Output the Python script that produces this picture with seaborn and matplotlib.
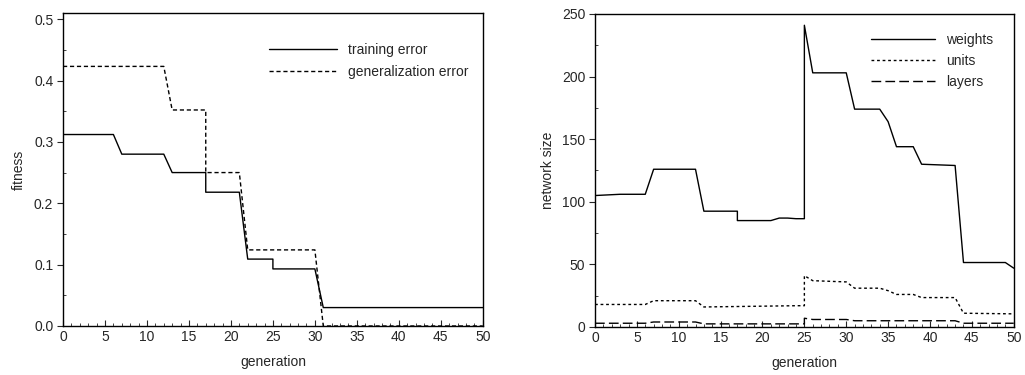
import numpy as np
import pandas as pd
import matplotlib
matplotlib.use("Agg")
import matplotlib.pyplot as plt
import seaborn as sns
from matplotlib.ticker import MultipleLocator

# fitness panel (vertices of the curves)
gen_train = [0, 6, 7, 12, 13, 17, 17, 21, 22, 25, 25, 30, 31, 50]
training_error = [0.312, 0.312, 0.280, 0.280, 0.250, 0.250, 0.218, 0.218, 0.109, 0.109, 0.093, 0.093, 0.030, 0.030]

gen_gener = [0, 12, 13, 17, 17, 21, 22, 30, 31, 50]
generalization_error = [0.423, 0.423, 0.352, 0.352, 0.250, 0.250, 0.124, 0.124, 0.0, 0.0]

# network size panel
gen_weights = [0, 3, 6, 7, 12, 13, 17, 17, 21, 22, 23, 24, 25, 25, 26, 30, 31, 34, 35, 36, 38, 39, 43, 44, 49, 50]
weights = [105, 106, 106, 126, 126, 92.5, 92.5, 85, 85, 87, 87, 86.5, 86.5, 241, 203, 203, 174, 174, 164, 144, 144, 130, 129, 51.5, 51.5, 47]

gen_units = [0, 6, 7, 12, 13, 24, 25, 25, 26, 30, 31, 34, 35, 36, 38, 39, 43, 44, 50]
units = [18, 18, 21, 21, 16, 17, 17, 41, 37, 36, 31, 31, 29, 26, 26, 23.5, 23.5, 11, 10.5]

gen_layers = [0, 6, 7, 12, 13, 25, 25, 26, 30, 31, 43, 44, 50]
layers = [3, 3, 4, 4, 2.5, 2.5, 7, 6, 6, 5, 5, 3, 3]

sns.set_style("ticks")
plt.rcParams['font.family'] = ['Liberation Sans', 'DejaVu Sans']
plt.rcParams['font.size'] = 10

fig = plt.figure(figsize=(10.25, 3.75), dpi=100)
ax1 = fig.add_axes([0.0615, 0.1307, 0.4095, 0.8346])
ax2 = fig.add_axes([0.5805, 0.128, 0.4085, 0.8347])

lw = 1.0
sns.lineplot(x=gen_train, y=training_error, ax=ax1, color="black", lw=lw,
             estimator=None, sort=False, label="training error")
sns.lineplot(x=gen_gener, y=generalization_error, ax=ax1, color="black", lw=lw,
             estimator=None, sort=False, label="generalization error")
ax1.lines[1].set_dashes([3, 2])

sns.lineplot(x=gen_weights, y=weights, ax=ax2, color="black", lw=lw,
             estimator=None, sort=False, label="weights")
sns.lineplot(x=gen_units, y=units, ax=ax2, color="black", lw=lw,
             estimator=None, sort=False, label="units")
sns.lineplot(x=gen_layers, y=layers, ax=ax2, color="black", lw=lw,
             estimator=None, sort=False, label="layers")
ax2.lines[1].set_dashes([2, 2])
ax2.lines[2].set_dashes([7, 3])

ax1.set_xlim(0, 50)
ax1.set_ylim(0, 0.51)
ax1.set_yticks([0.0, 0.1, 0.2, 0.3, 0.4, 0.5])
ax1.set_yticklabels(["0.0", "0.1", "0.2", "0.3", "0.4", "0.5"])
ax1.yaxis.set_minor_locator(MultipleLocator(0.05))
ax1.set_ylabel("fitness", labelpad=6)

ax2.set_xlim(0, 50)
ax2.set_ylim(0, 250)
ax2.set_yticks([0, 50, 100, 150, 200, 250])
ax2.yaxis.set_minor_locator(MultipleLocator(25))
ax2.set_ylabel("network size", labelpad=5)

for ax in (ax1, ax2):
    ax.set_xticks(range(0, 51, 5))
    ax.xaxis.set_minor_locator(MultipleLocator(1))
    ax.set_xlabel("generation", labelpad=8)
    ax.tick_params(which="major", direction="in", length=4, width=0.8, labelsize=10, pad=3)
    ax.tick_params(axis="y", which="major", direction="out", length=4)
    ax.tick_params(which="minor", direction="in", length=2, width=0.6)
    for s in ax.spines.values():
        s.set_visible(True)
        s.set_linewidth(1.0)
        s.set_color("black")

ax1.legend(loc="upper right", bbox_to_anchor=(0.995, 0.945), frameon=False,
           handlelength=4.9, fontsize=10, labelspacing=0.6)
ax2.legend(loc="upper right", bbox_to_anchor=(0.98, 0.98), frameon=False,
           handlelength=4.6, fontsize=10, labelspacing=0.5)

fig.savefig("out.png", dpi=100)
